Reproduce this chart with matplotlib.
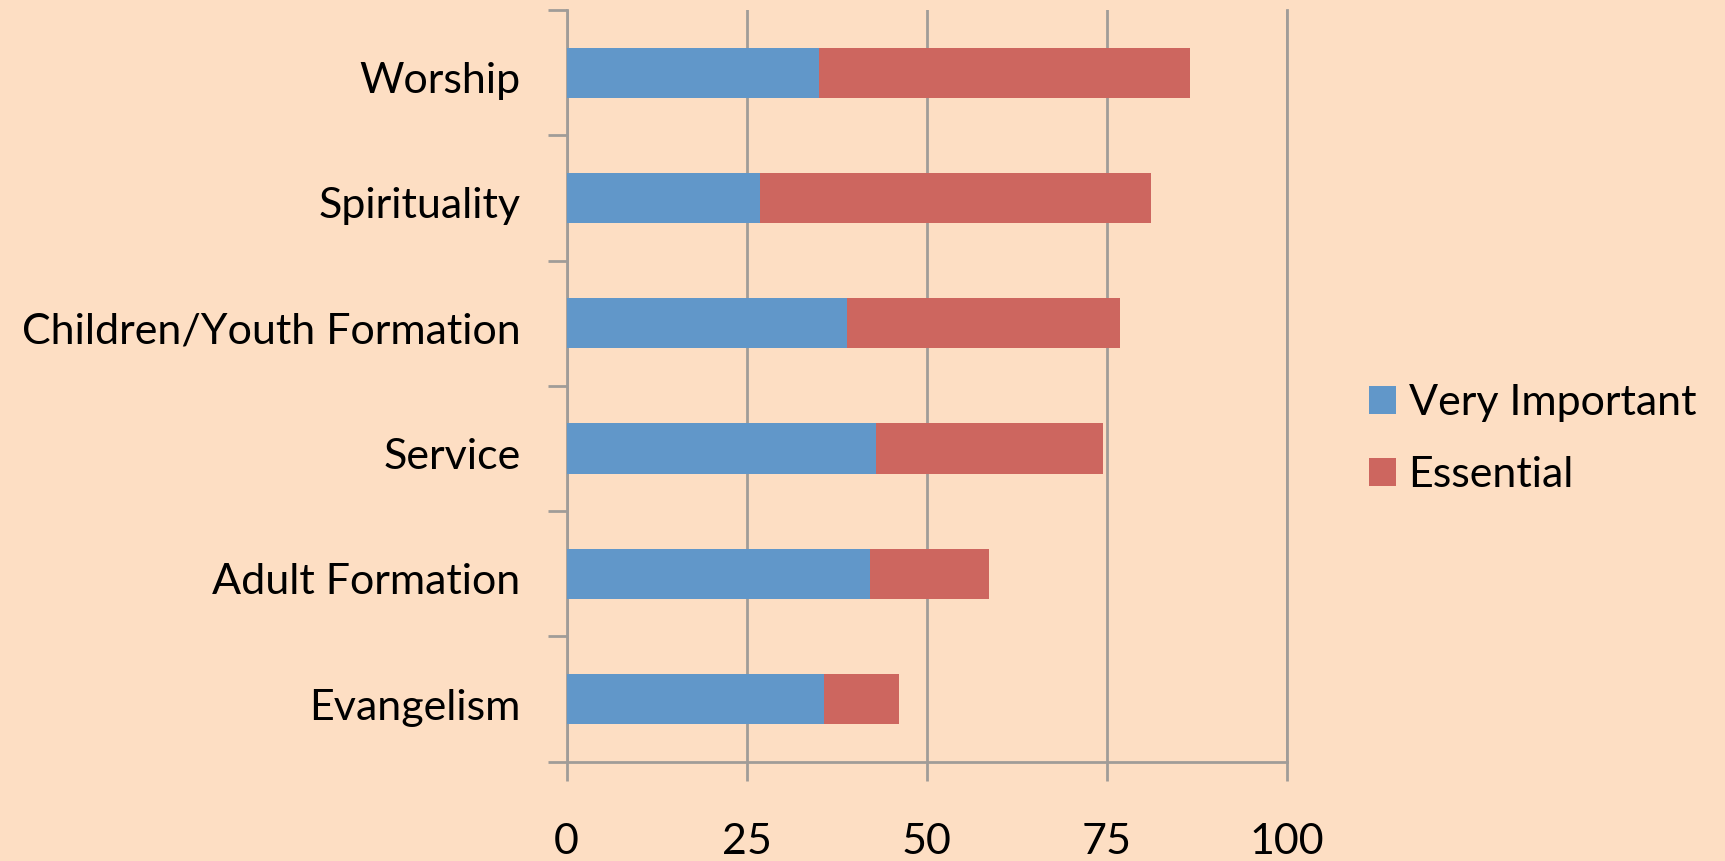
import numpy as np
import matplotlib.pyplot as plt
import matplotlib.transforms as mtransforms

plt.rcParams['font.family'] = ['Lato', 'DejaVu Sans']

categories = ["Worship", "Spirituality", "Children/Youth Formation",
              "Service", "Adult Formation", "Evangelism"]
veryImportant = [35.1, 26.9, 39.0, 43.0, 42.1, 35.7]
essential = [51.4, 54.2, 37.8, 31.5, 16.5, 10.4]
xTicks = [0, 25, 50, 75, 100]

bg = '#FDDEC3'
blue = '#6197C9'
red = '#CD665F'
grid = '#A09C98'
fs = 31

fig = plt.figure(figsize = (17.25, 8.61), dpi = 100, facecolor = bg)
ax = fig.add_axes([566.5 / 1725, 1 - 761.7 / 861, (1287 - 566.5) / 1725, (761.7 - 10) / 861])
ax.set_facecolor(bg)

n = len(categories)
y = n - 0.5 - np.arange(n)
ax.barh(y, veryImportant, height = 0.4, color = blue, label = "Very Important", zorder = 3)
ax.barh(y, essential, left = veryImportant, height = 0.4, color = red, label = "Essential", zorder = 3)

ax.set_xlim(0, 100)
ax.set_ylim(0, n)
ax.set_xticks(xTicks)
ax.set_xticklabels([str(t) for t in xTicks], fontsize = fs)
ax.set_yticks(np.arange(n + 1))
ax.set_yticklabels([])
ax.set_yticks(y, minor = True)
ax.set_yticklabels(categories, minor = True, fontsize = fs)
ax.tick_params(axis = 'y', which = 'minor', length = 0, pad = 33)
ax.tick_params(axis = 'y', which = 'major', length = 14, width = 2, color = grid, direction = 'out')
ax.tick_params(axis = 'x', length = 14, width = 2, color = grid, direction = 'out', pad = 30)

# nudge category labels down a little, like the original
shift = mtransforms.ScaledTranslation(0, -5 / 100, fig.dpi_scale_trans)
for lbl in ax.get_yticklabels(minor = True):
    lbl.set_transform(lbl.get_transform() + shift)

ax.xaxis.grid(True, color = grid, linewidth = 2, zorder = 0)
ax.spines['top'].set_visible(False)
for side in ['left', 'bottom', 'right']:
    ax.spines[side].set_color(grid)
    ax.spines[side].set_linewidth(2)

fig.legend(loc = 'center left', bbox_to_anchor = (1369 / 1725, 1 - 439 / 861),
           frameon = False, fontsize = fs, handlelength = 0.62, handleheight = 0.62,
           handletextpad = 0.3, labelspacing = 0.8, borderpad = 0, borderaxespad = 0)

fig.savefig("out.png", dpi = 100, facecolor = bg)
